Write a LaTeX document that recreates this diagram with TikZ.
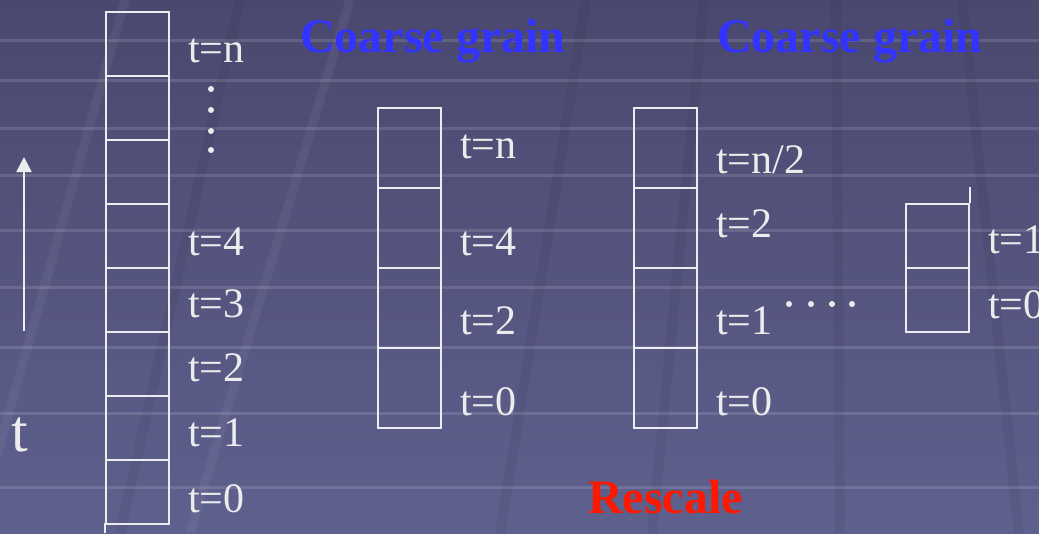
\documentclass[tikz,border=0pt]{standalone}
\usepackage{fontspec}
\setmainfont{Liberation Serif}
\usetikzlibrary{arrows.meta}
\definecolor{bgtop}{RGB}{74,72,110}
\definecolor{bgbot}{RGB}{94,96,142}
\definecolor{ink}{RGB}{236,236,236}
\definecolor{titleblue}{RGB}{51,51,255}
\definecolor{rescalered}{RGB}{255,24,0}
\begin{document}
\begin{tikzpicture}[x=1pt,y=-1pt,
  cell/.style={draw=ink,line width=1.8pt,minimum width=63pt,minimum height=#1,inner sep=0pt,anchor=north west},
  lab/.style={text=ink,font=\fontsize{42}{46}\selectfont,anchor=base west,inner sep=0pt},
  title/.style={text=titleblue,font=\fontsize{48}{52}\selectfont\bfseries,anchor=base west,inner sep=0pt},
  dot/.style={circle,fill=ink,inner sep=0pt,minimum size=6pt},
  stripe/.style={white,opacity=0.13,line width=3pt},
  lightdiag/.style={white,opacity=0.05,line width=9pt},
  darkdiag/.style={black,opacity=0.05,line width=10pt}]
% background
\shade[top color=bgtop,bottom color=bgbot] (0,0) rectangle (1039,533);
\useasboundingbox (0,0) rectangle (1039,533);
\foreach \y in {40,80,128,175,230,287,347,413,487}
  \draw[stripe] (0,\y) -- (1039,\y);
\draw[lightdiag] (125,0) -- (-10,480);
\draw[lightdiag] (350,0) -- (190,533);
\draw[darkdiag] (240,0) -- (120,533);
\draw[darkdiag] (586,0) -- (500,533);
\draw[darkdiag] (704,0) -- (652,533);
\draw[darkdiag] (836,0) -- (840,533);
\draw[darkdiag] (962,0) -- (1019,533);
% left axis
\coordinate (abot) at (24,331);
\coordinate (atop) at (24,157);
\draw[ink,line width=2pt,-{Triangle[width=15pt,length=15pt]}] (abot) -- (atop);
\node[text=ink,font=\fontsize{60}{64}\selectfont,anchor=base west,inner sep=0pt] (tax) at (11,451) {t};
% column 1
\foreach \i/\y in {1/11,2/75,3/139,4/203,5/267,6/331,7/395,8/459}
  \node[cell=64pt] (a\i) at (105,\y) {};
\coordinate (a9) at (105,523);
\coordinate (a10) at (105,533);
\draw[ink,line width=1.8pt] (a9) -- (a10);
\node[lab] (ln) at (188,62) {t=n};
\foreach \i/\y in {1/89,2/110,3/131,4/150}
  \node[dot] (vd\i) at (211,\y) {};
\node[lab] (l4) at (188,255) {t=4};
\node[lab] (l3) at (188,317) {t=3};
\node[lab] (l2) at (188,381) {t=2};
\node[lab] (l1) at (188,446) {t=1};
\node[lab] (l0) at (188,512) {t=0};
% titles
\node[title] (cg1) at (300,52) {Coarse grain};
\node[title] (cg2) at (717,52) {Coarse grain};
% column 2
\foreach \i/\y in {1/107,2/187,3/267,4/347}
  \node[cell=80pt] (b\i) at (377,\y) {};
\node[lab] (bn) at (460,158) {t=n};
\node[lab] (b4l) at (460,255) {t=4};
\node[lab] (b2l) at (460,334) {t=2};
\node[lab] (b0l) at (460,415) {t=0};
% column 3
\foreach \i/\y in {1/107,2/187,3/267,4/347}
  \node[cell=80pt] (c\i) at (633,\y) {};
\node[lab] (cn) at (716,173) {t=n/2};
\node[lab] (c2l) at (716,237) {t=2};
\node[lab] (c1l) at (716,334) {t=1};
\node[lab] (c0l) at (716,415) {t=0};
% dots
\foreach \i/\x in {1/789,2/811,3/832,4/852}
  \node[dot] (hd\i) at (\x,304) {};
% column 4
\node[cell=64pt] (d1) at (905,203) {};
\node[cell=64pt] (d2) at (905,267) {};
\draw[ink,line width=1.8pt] (d1.north east) -- ++(0,-16);
\node[lab] (d1l) at (988,253) {t=1};
\node[lab] (d0l) at (988,318) {t=0};
% rescale
\node[text=rescalered,font=\fontsize{48}{52}\selectfont\bfseries,anchor=base west,inner sep=0pt] (rs) at (588,513) {Rescale};
\end{tikzpicture}
\end{document}
